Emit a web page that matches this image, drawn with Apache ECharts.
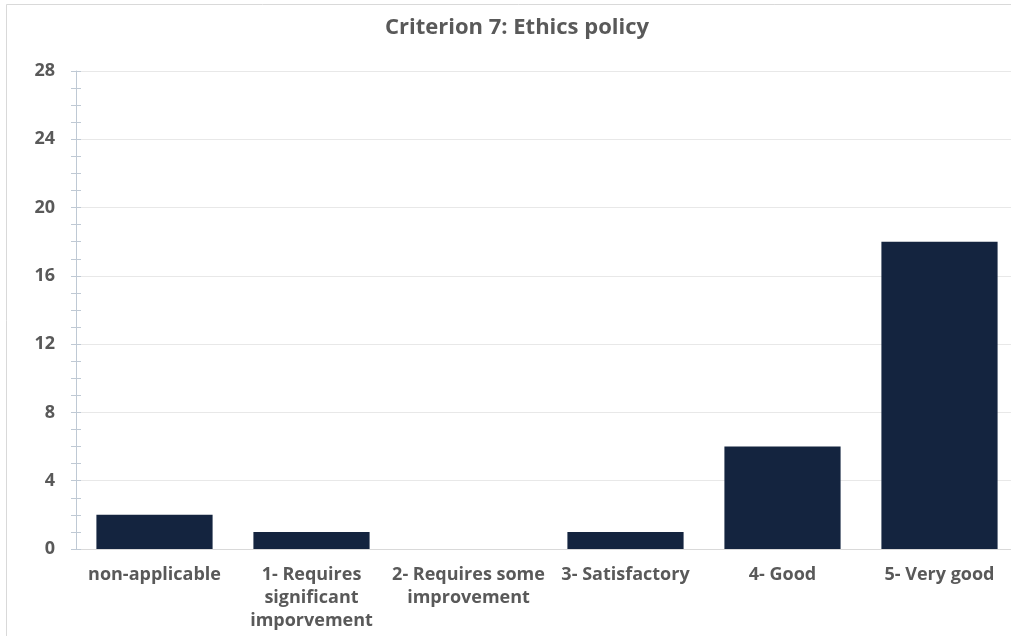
<!DOCTYPE html>
<html>
<head>
<meta charset="utf-8">
<script src="https://cdn.jsdelivr.net/npm/echarts@6/dist/echarts.min.js"></script>
<style>html,body{margin:0;padding:0;background:#fff;overflow:hidden}#c{width:1030px;height:636px}</style>
</head>
<body>
<div id="c"></div>
<script>
const titleText = "Criterion 7: Ethics policy";
const categories = ["non-applicable", "1- Requires\nsignificant\nimporvement", "2- Requires some\nimprovement", "3- Satisfactory", "4- Good", "5- Very good"];
const values = [2, 1, 0, 1, 6, 18];
const yMin = 0, yMax = 28, yStep = 4;

const chart = echarts.init(document.getElementById('c'), null, {renderer: 'canvas'});
const font = '"Open Sans", "Liberation Sans", sans-serif';
const grey = '#595959';
chart.setOption({
  animation: false,
  backgroundColor: '#fff',
  graphic: [{
    type: 'rect', shape: {x: 6.5, y: 4.5, width: 1100, height: 700},
    style: {fill: 'none', stroke: '#d9d9d9', lineWidth: 1}, silent: true
  }],
  title: {
    text: titleText, left: 512, top: 12, textAlign: 'center',
    textStyle: {fontFamily: font, fontWeight: 'bold', fontSize: 22, color: grey}
  },
  grid: {left: 76, top: 71, width: 942, height: 478, containLabel: false},
  xAxis: {
    type: 'category', data: categories,
    axisLine: {show: true, lineStyle: {color: '#d9d9d9', width: 1}},
    axisTick: {show: false},
    axisLabel: {interval: 0, margin: 14, fontFamily: font, fontWeight: 'bold', fontSize: 18, color: grey, lineHeight: 23}
  },
  yAxis: [{
    type: 'value', min: yMin, max: yMax, interval: yStep,
    axisLine: {show: true, lineStyle: {color: '#bfc9d4', width: 1}},
    axisTick: {show: true, length: 5, lineStyle: {color: '#bfc9d4'}},
    minorTick: {show: true, splitNumber: 4, length: 5, lineStyle: {color: '#bfc9d4'}},
    splitLine: {show: true, lineStyle: {color: '#e8e8e8', width: 1}},
    axisLabel: {margin: 21, fontFamily: font, fontWeight: 'bold', fontSize: 18, color: grey}
  }, {
    type: 'value', min: yMin, max: yMax, interval: yStep, position: 'left', offset: 0,
    axisLine: {show: false},
    axisTick: {show: true, inside: true, length: 5, lineStyle: {color: '#bfc9d4'}},
    minorTick: {show: true, splitNumber: 4, length: 5, lineStyle: {color: '#bfc9d4'}},
    splitLine: {show: false},
    axisLabel: {show: false}
  }],
  series: [{
    type: 'bar', data: values, yAxisIndex: 0,
    barCategoryGap: '26%',
    itemStyle: {color: '#14243f'}
  }]
});
</script>
</body>
</html>
